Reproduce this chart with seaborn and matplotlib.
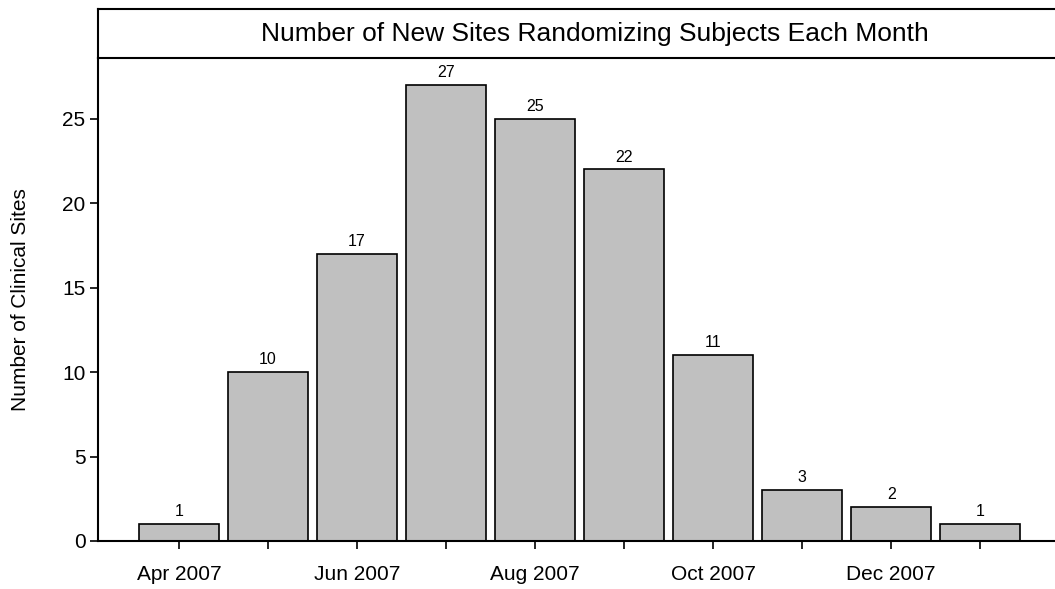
import matplotlib
matplotlib.use("Agg")
import matplotlib.pyplot as plt
import seaborn as sns
import pandas as pd

months = ["Apr 2007", "May 2007", "Jun 2007", "Jul 2007", "Aug 2007",
          "Sep 2007", "Oct 2007", "Nov 2007", "Dec 2007", "Jan 2008"]
counts = [1, 10, 17, 27, 25, 22, 11, 3, 2, 1]
tick_labels = ["Apr 2007", "", "Jun 2007", "", "Aug 2007", "",
               "Oct 2007", "", "Dec 2007", ""]
title = "Number of New Sites Randomizing Subjects Each Month"
ylabel = "Number of Clinical Sites"

sns.set_theme(style="white")
plt.rcParams["font.family"] = ["Liberation Sans", "DejaVu Sans"]
plt.rcParams["axes.labelcolor"] = "black"
plt.rcParams["text.color"] = "black"

df = pd.DataFrame({"month": months, "count": counts})

W, H = 1055, 589
fig = plt.figure(figsize=(W / 100, H / 100), dpi=100)
left = 98 / W
ax = fig.add_axes([left, (H - 541) / H, 1 - left, (541 - 58) / H])
tax = fig.add_axes([left, (H - 58) / H, 1 - left, (58 - 9) / H])

sns.barplot(data=df, x="month", y="count", ax=ax, color="#C0C0C0",
            edgecolor="black", linewidth=1.2, width=0.9, saturation=1)

for i, v in enumerate(counts):
    ax.annotate(str(v), (i, v), xytext=(0, 3.5), textcoords="offset points",
                ha="center", va="bottom", fontsize=11.5, color="black")

ax.set_xlim(-0.91, 9.84)
ax.set_ylim(0, 28.6)
ax.set_yticks([0, 5, 10, 15, 20, 25])
ax.set_xticks(range(len(months)))
ax.set_xticklabels(tick_labels)
ax.set_xlabel("")
ax.set_ylabel(ylabel, fontsize=15, labelpad=23, color="black")
ax.tick_params(axis="both", labelsize=15, colors="black", direction="out")
ax.tick_params(axis="x", length=6, width=1.2, pad=11)
ax.tick_params(axis="y", length=6, width=1.2, pad=3)
ax.tick_params(bottom=True, left=True)
for s in ["top", "right"]:
    ax.spines[s].set_visible(False)
for s in ["left", "bottom"]:
    ax.spines[s].set_color("black")
    ax.spines[s].set_linewidth(1.5)

tax.set_xticks([])
tax.set_yticks([])
tax.set_facecolor("white")
tax.spines["right"].set_visible(False)
for s in ["left", "top", "bottom"]:
    tax.spines[s].set_color("black")
    tax.spines[s].set_linewidth(1.5)
tax.text((595 - 98) / (1055 - 98), 0.5, title, transform=tax.transAxes,
         ha="center", va="center", fontsize=19, color="black")

fig.savefig("out.png", dpi=100)
